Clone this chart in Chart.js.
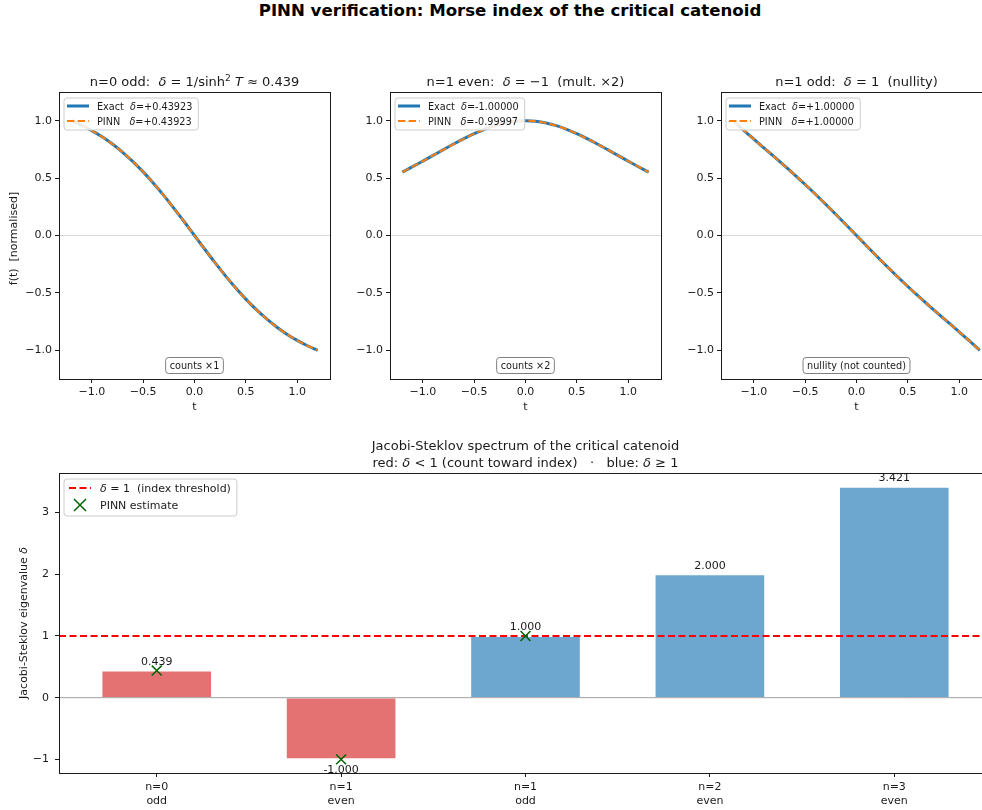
<!DOCTYPE html>
<html>
<head>
<meta charset="utf-8">
<script src="https://cdn.jsdelivr.net/npm/chart.js@4.4.1/dist/chart.umd.min.js"></script>
<style>
    body { margin: 0; width: 982px; height: 810px; overflow: hidden; background: #fff; position: relative; }
    canvas { position: absolute; }
    #suptitle { position: absolute; left: 0; top: 1px; width: 1020px; line-height: 24px; text-align: center;
                font: bold 16.6px "DejaVu Sans"; color: #000; }
</style>
</head>
<body>
<div id="suptitle">PINN verification: Morse index of the critical catenoid</div>
<canvas id="p0" width="340" height="365" style="left:0;top:60px"></canvas>
<canvas id="p1" width="330" height="365" style="left:340px;top:60px"></canvas>
<canvas id="p2" width="340" height="365" style="left:670px;top:60px"></canvas>
<canvas id="spectrum" width="1010" height="380" style="left:0;top:430px"></canvas>

<script>
/* ---------- data ---------- */
const T_VALUES = [-1.2, -1.1, -1.0, -0.9, -0.8, -0.7, -0.6, -0.5, -0.4, -0.3, -0.2, -0.1, 0.0,
                  0.1, 0.2, 0.3, 0.4, 0.5, 0.6, 0.7, 0.8, 0.9, 1.0, 1.1, 1.2];

const N0_ODD_EXACT  = [1.0, 0.9602, 0.9135, 0.8592, 0.7964, 0.7250, 0.6441, 0.5543, 0.4557, 0.3494, 0.2368, 0.1196, 0.0,
                       -0.1196, -0.2368, -0.3494, -0.4557, -0.5543, -0.6441, -0.7250, -0.7964, -0.8592, -0.9135, -0.9602, -1.0];
const N0_ODD_PINN   = [1.0, 0.9602, 0.9135, 0.8592, 0.7964, 0.7250, 0.6441, 0.5543, 0.4557, 0.3494, 0.2368, 0.1196, 0.0,
                       -0.1196, -0.2368, -0.3494, -0.4557, -0.5543, -0.6441, -0.7250, -0.7964, -0.8592, -0.9135, -0.9602, -1.0];
const N1_EVEN_EXACT = [0.5523, 0.5993, 0.6481, 0.6977, 0.7477, 0.7967, 0.8436, 0.8868, 0.9250, 0.9566, 0.9803, 0.9950, 1.0,
                       0.9950, 0.9803, 0.9566, 0.9250, 0.8868, 0.8436, 0.7967, 0.7477, 0.6977, 0.6481, 0.5993, 0.5523];
const N1_EVEN_PINN  = [0.5523, 0.5993, 0.6481, 0.6977, 0.7477, 0.7967, 0.8436, 0.8868, 0.9250, 0.9566, 0.9803, 0.9950, 1.0,
                       0.9950, 0.9803, 0.9566, 0.9250, 0.8868, 0.8436, 0.7967, 0.7477, 0.6977, 0.6481, 0.5993, 0.5523];
const N1_ODD_EXACT  = [1.0, 0.9184, 0.8395, 0.7617, 0.6843, 0.6060, 0.5262, 0.4441, 0.3595, 0.2723, 0.1830, 0.0919, 0.0,
                       -0.0919, -0.1830, -0.2723, -0.3595, -0.4441, -0.5262, -0.6060, -0.6843, -0.7617, -0.8395, -0.9184, -1.0];
const N1_ODD_PINN   = [1.0, 0.9184, 0.8395, 0.7617, 0.6843, 0.6060, 0.5262, 0.4441, 0.3595, 0.2723, 0.1830, 0.0919, 0.0,
                       -0.0919, -0.1830, -0.2723, -0.3595, -0.4441, -0.5262, -0.6060, -0.6843, -0.7617, -0.8395, -0.9184, -1.0];

const EXACT_DELTAS = ['+0.43923', '-1.00000', '+1.00000'];
const PINN_DELTAS  = ['+0.43923', '-0.99997', '+1.00000'];
const PANEL_NOTES  = ['counts ×1', 'counts ×2', 'nullity (not counted)'];
const T_TICKS = [-1, -0.5, 0, 0.5, 1];
const F_TICKS = [-1, -0.5, 0, 0.5, 1];

const MODE_LABELS    = ['n=0', 'n=1', 'n=1', 'n=2', 'n=3'];
const MODE_PARITY    = ['odd', 'even', 'odd', 'even', 'even'];
const EIGENVALUES    = [0.439, -1.0, 1.0, 2.0, 3.421];
const PINN_ESTIMATES = [0.439, -1.0, 1.0];
const DELTA_TICKS    = [-1, 0, 1, 2, 3];
const THRESHOLD      = 1;

/* ---------- styling ---------- */
const FONT   = '"DejaVu Sans"';
const INK    = '#1a1a1a';
const BLUE   = '#1f77b4';
const ORANGE = '#ff7f0e';
const BAR_RED  = 'rgb(228,114,115)';
const BAR_BLUE = 'rgb(109,166,206)';
const MARK_GREEN = '#006400';

Chart.defaults.font.family = FONT;
Chart.defaults.color = INK;

// mixed roman / italic / superscript text, y is the baseline
function richText(ctx, parts, x, y, size, align) {
    const fontOf = st => (st === 'i' ? 'italic ' : '') + (st === 'sup' ? size * 0.7 : size) + 'px ' + FONT;
    let total = 0;
    parts.forEach(([t, st]) => { ctx.font = fontOf(st); total += ctx.measureText(t).width; });
    let cx = align === 'center' ? x - total / 2 : x;
    ctx.textAlign = 'left';
    ctx.textBaseline = 'alphabetic';
    parts.forEach(([t, st]) => {
        ctx.font = fontOf(st);
        ctx.fillText(t, cx, st === 'sup' ? y - size * 0.42 : y);
        cx += ctx.measureText(t).width;
    });
    return total;
}

function textWidth(ctx, parts, size) {
    let w = 0;
    parts.forEach(([t, st]) => {
        ctx.font = (st === 'i' ? 'italic ' : '') + size + 'px ' + FONT;
        w += ctx.measureText(t).width;
    });
    return w;
}

function roundRect(ctx, x, y, w, h, r) {
    ctx.beginPath();
    ctx.moveTo(x + r, y);
    ctx.lineTo(x + w - r, y);
    ctx.quadraticCurveTo(x + w, y, x + w, y + r);
    ctx.lineTo(x + w, y + h - r);
    ctx.quadraticCurveTo(x + w, y + h, x + w - r, y + h);
    ctx.lineTo(x + r, y + h);
    ctx.quadraticCurveTo(x, y + h, x, y + h - r);
    ctx.lineTo(x, y + r);
    ctx.quadraticCurveTo(x, y, x + r, y);
    ctx.closePath();
}

function fmtSigned(v, digits) {
    return (v < 0 ? '\u2212' : '') + Math.abs(v).toFixed(digits);
}

function axisOpts(min, max, ticks, fmt, fixedSize, isX, pad) {
    return {
        type: 'linear', min, max, offset: false,
        afterBuildTicks: s => { s.ticks = ticks.map(v => ({ value: v })); },
        afterFit: s => { if (isX) s.height = fixedSize; else s.width = fixedSize; },
        grid: { drawOnChartArea: false, drawTicks: true, tickLength: 4, color: INK, offset: false },
        border: { display: false },
        ticks: { color: INK, font: { size: 11 }, padding: pad, callback: fmt, maxRotation: 0, autoSkip: false }
    };
}

function drawFrame(ctx, a) {
    ctx.save();
    ctx.strokeStyle = INK;
    ctx.lineWidth = 1;
    ctx.strokeRect(Math.round(a.left) + 0.5, Math.round(a.top) + 0.5,
                   Math.round(a.right - a.left), Math.round(a.bottom - a.top));
    ctx.restore();
}

/* ---------- top row: eigenfunctions ---------- */
const CANVAS_TOP = 60, AREA_TOP = 92, AREA_BOTTOM = 379;

const PANELS = [
    { id: 'p0', left: 0,   area: [59, 330],  exact: N0_ODD_EXACT,  pinn: N0_ODD_PINN,  ylabel: true,
      title: [['n=0 odd:  ', ''], ['δ', 'i'], [' = 1/sinh', ''], ['2', 'sup'], [' ', ''], ['T', 'i'], [' ≈ 0.439', '']] },
    { id: 'p1', left: 340, area: [390, 661], exact: N1_EVEN_EXACT, pinn: N1_EVEN_PINN, ylabel: false,
      title: [['n=1 even:  ', ''], ['δ', 'i'], [' = \u22121  (mult. ×2)', '']] },
    { id: 'p2', left: 670, area: [721, 992], exact: N1_ODD_EXACT,  pinn: N1_ODD_PINN,  ylabel: false,
      title: [['n=1 odd:  ', ''], ['δ', 'i'], [' = 1  (nullity)', '']] }
];

function makePanel(p, k) {
    const canvas = document.getElementById(p.id);
    const pts = arr => T_VALUES.map((t, i) => ({ x: t, y: arr[i] }));

    const decor = {
        id: 'panelDecor',
        beforeDatasetsDraw(chart) {
            const { ctx, chartArea: a, scales } = chart;
            const y0 = scales.y.getPixelForValue(0);
            ctx.save();
            ctx.strokeStyle = '#cfcfcf';
            ctx.lineWidth = 0.8;
            ctx.beginPath(); ctx.moveTo(a.left, y0); ctx.lineTo(a.right, y0); ctx.stroke();
            ctx.restore();
        },
        afterDraw(chart) {
            const { ctx, chartArea: a } = chart;
            const cx = (a.left + a.right) / 2;
            drawFrame(ctx, a);
            ctx.save();
            ctx.fillStyle = INK;

            // panel title
            richText(ctx, p.title, cx, 26, 13, 'center');

            // axis labels
            ctx.font = '11px ' + FONT; ctx.textAlign = 'center'; ctx.textBaseline = 'middle';
            ctx.fillText('t', cx, AREA_BOTTOM - CANVAS_TOP + 28);
            if (p.ylabel) {
                ctx.save();
                ctx.translate(14, (a.top + a.bottom) / 2 + 3);
                ctx.rotate(-Math.PI / 2);
                ctx.fillText('f(t)  [normalised]', 0, 0);
                ctx.restore();
            }

            // legend box
            const size = 9.7;
            const rows = [
                [['Exact  ', ''], ['δ', 'i'], ['=' + EXACT_DELTAS[k], '']],
                [['PINN   ', ''], ['δ', 'i'], ['=' + PINN_DELTAS[k], '']]
            ];
            const bw = 34 + Math.max(textWidth(ctx, rows[0], size), textWidth(ctx, rows[1], size)) + 5;
            const bx = a.left + 5, by = a.top + 6;
            roundRect(ctx, bx, by, bw, 32, 3);
            ctx.fillStyle = 'rgba(255,255,255,0.85)'; ctx.fill();
            ctx.strokeStyle = '#cccccc'; ctx.lineWidth = 1; ctx.stroke();
            [[BLUE, 3, []], [ORANGE, 2, [7.4, 3.2]]].forEach(([c, w, d], r) => {
                const ry = by + 8 + r * 15;
                ctx.strokeStyle = c; ctx.lineWidth = w; ctx.setLineDash(d);
                ctx.beginPath(); ctx.moveTo(bx + 3, ry); ctx.lineTo(bx + 25, ry); ctx.stroke();
                ctx.setLineDash([]);
                ctx.fillStyle = INK;
                richText(ctx, rows[r], bx + 33, ry + 3.5, size, 'left');
            });

            // bottom note box
            ctx.font = '9.7px ' + FONT;
            const note = PANEL_NOTES[k];
            const nw = ctx.measureText(note).width + 8;
            const ny = a.bottom - 13.5;
            roundRect(ctx, cx - nw / 2, ny - 8, nw, 16, 3);
            ctx.fillStyle = '#fff'; ctx.fill();
            ctx.strokeStyle = '#808080'; ctx.lineWidth = 1; ctx.stroke();
            ctx.fillStyle = INK; ctx.textAlign = 'center'; ctx.textBaseline = 'middle';
            ctx.fillText(note, cx, ny + 0.5);
            ctx.restore();
        }
    };

    new Chart(canvas.getContext('2d'), {
        type: 'line',
        data: {
            datasets: [
                { label: 'PINN',  data: pts(p.pinn),  borderColor: ORANGE, borderWidth: 2, borderDash: [7.4, 3.2], order: 0 },
                { label: 'Exact', data: pts(p.exact), borderColor: BLUE,   borderWidth: 3, order: 1 }
            ]
        },
        options: {
            animation: false,
            responsive: false,
            layout: { padding: { left: 0, top: AREA_TOP - CANVAS_TOP, right: p.left + canvas.width - p.area[1], bottom: 0 } },
            elements: { point: { radius: 0 }, line: { cubicInterpolationMode: 'monotone' } },
            plugins: { legend: { display: false }, tooltip: { enabled: false } },
            scales: {
                x: axisOpts(-1.32, 1.32, T_TICKS, v => fmtSigned(v, 1), canvas.height - (AREA_BOTTOM - CANVAS_TOP), true, 3),
                y: axisOpts(-1.25, 1.25, F_TICKS, v => fmtSigned(v, 1), p.area[0] - p.left, false, 3)
            }
        },
        plugins: [decor]
    });
}

PANELS.forEach(makePanel);

/* ---------- bottom: Jacobi-Steklov spectrum ---------- */
function makeSpectrum() {
    const canvas = document.getElementById('spectrum');
    const top = 430, areaTop = 473, areaBottom = 773, areaLeft = 59, areaRight = 992;

    const decor = {
        id: 'spectrumDecor',
        afterDatasetDraw(chart, args) {
            if (args.index !== 1) return;   // after bars, before the PINN markers
            const { ctx, chartArea: a, scales } = chart;
            const y0 = scales.y.getPixelForValue(0);
            const y1 = scales.y.getPixelForValue(THRESHOLD);
            ctx.save();
            ctx.strokeStyle = '#a0a0a0'; ctx.lineWidth = 1;
            ctx.beginPath(); ctx.moveTo(a.left, y0); ctx.lineTo(a.right, y0); ctx.stroke();
            ctx.strokeStyle = '#ff0000'; ctx.lineWidth = 2; ctx.setLineDash([7, 3.5]);
            ctx.beginPath(); ctx.moveTo(a.left, y1); ctx.lineTo(a.right, y1); ctx.stroke();
            ctx.restore();
        },
        afterDraw(chart) {
            const { ctx, chartArea: a, scales } = chart;
            const cx = (a.left + a.right) / 2;
            drawFrame(ctx, a);
            ctx.save();
            ctx.fillStyle = INK;

            // value labels
            ctx.font = '11px ' + FONT; ctx.textAlign = 'center';
            EIGENVALUES.forEach((v, i) => {
                const x = scales.x.getPixelForValue(i);
                const y = scales.y.getPixelForValue(v);
                ctx.textBaseline = v >= 0 ? 'bottom' : 'top';
                ctx.fillText(v.toFixed(3), x, v >= 0 ? y - 3 : y + 5);
            });

            // title
            ctx.fillStyle = INK;
            ctx.font = '13px ' + FONT; ctx.textAlign = 'center'; ctx.textBaseline = 'alphabetic';
            ctx.fillText('Jacobi-Steklov spectrum of the critical catenoid', cx, 20);
            richText(ctx, [['red: ', ''], ['δ', 'i'], [' < 1 (count toward index)   ·   blue: ', ''], ['δ', 'i'], [' ≥ 1', '']],
                     cx, 37, 13, 'center');

            // y label
            ctx.save();
            ctx.translate(27, (a.top + a.bottom) / 2);
            ctx.rotate(-Math.PI / 2);
            richText(ctx, [['Jacobi-Steklov eigenvalue ', ''], ['δ', 'i']], 0, 0, 11, 'center');
            ctx.restore();

            // legend
            const size = 11;
            const rows = [[['δ', 'i'], [' = 1  (index threshold)', '']], [['PINN estimate', '']]];
            const bw = 36 + Math.max(textWidth(ctx, rows[0], size), textWidth(ctx, rows[1], size)) + 6;
            const bx = a.left + 5, by = a.top + 6;
            roundRect(ctx, bx, by, bw, 37, 3);
            ctx.fillStyle = 'rgba(255,255,255,0.85)'; ctx.fill();
            ctx.strokeStyle = '#cccccc'; ctx.lineWidth = 1; ctx.stroke();

            let ry = by + 9;
            ctx.strokeStyle = '#ff0000'; ctx.lineWidth = 2; ctx.setLineDash([7, 3.5]);
            ctx.beginPath(); ctx.moveTo(bx + 5, ry); ctx.lineTo(bx + 27, ry); ctx.stroke();
            ctx.setLineDash([]);
            ctx.fillStyle = INK;
            richText(ctx, rows[0], bx + 36, ry + 4, size, 'left');

            ry = by + 26;
            const mx = bx + 16, r = 6;
            ctx.strokeStyle = MARK_GREEN; ctx.lineWidth = 1.5;
            ctx.beginPath();
            ctx.moveTo(mx - r, ry - r); ctx.lineTo(mx + r, ry + r);
            ctx.moveTo(mx - r, ry + r); ctx.lineTo(mx + r, ry - r);
            ctx.stroke();
            ctx.fillStyle = INK;
            richText(ctx, rows[1], bx + 36, ry + 4, size, 'left');
            ctx.restore();
        }
    };

    new Chart(canvas.getContext('2d'), {
        type: 'bar',
        data: {
            datasets: [
                {
                    type: 'scatter', label: 'PINN estimate',
                    data: PINN_ESTIMATES.map((v, i) => ({ x: i, y: v })),
                    pointStyle: 'crossRot', pointRadius: 7, pointBorderWidth: 1.5,
                    borderColor: MARK_GREEN, backgroundColor: MARK_GREEN
                },
                {
                    type: 'bar', label: 'eigenvalue',
                    data: EIGENVALUES.map((v, i) => ({ x: i, y: v })),
                    backgroundColor: EIGENVALUES.map(v => v < THRESHOLD ? BAR_RED : BAR_BLUE),
                    borderColor: 'rgba(255,255,255,0.45)', borderWidth: 1,
                    barPercentage: 0.6, categoryPercentage: 1
                }
            ]
        },
        options: {
            animation: false,
            responsive: false,
            layout: { padding: { left: 0, top: areaTop - top, right: canvas.width - areaRight, bottom: 0 } },
            plugins: { legend: { display: false }, tooltip: { enabled: false } },
            scales: {
                x: axisOpts(-0.53, 4.53, MODE_LABELS.map((_, i) => i), (v, i) => [MODE_LABELS[i], MODE_PARITY[i]],
                            810 - areaBottom, true, 4),
                y: axisOpts(-1.221, 3.642, DELTA_TICKS, v => fmtSigned(v, 0), areaLeft, false, 6)
            }
        },
        plugins: [decor]
    });
}

makeSpectrum();
</script>
</body>
</html>
